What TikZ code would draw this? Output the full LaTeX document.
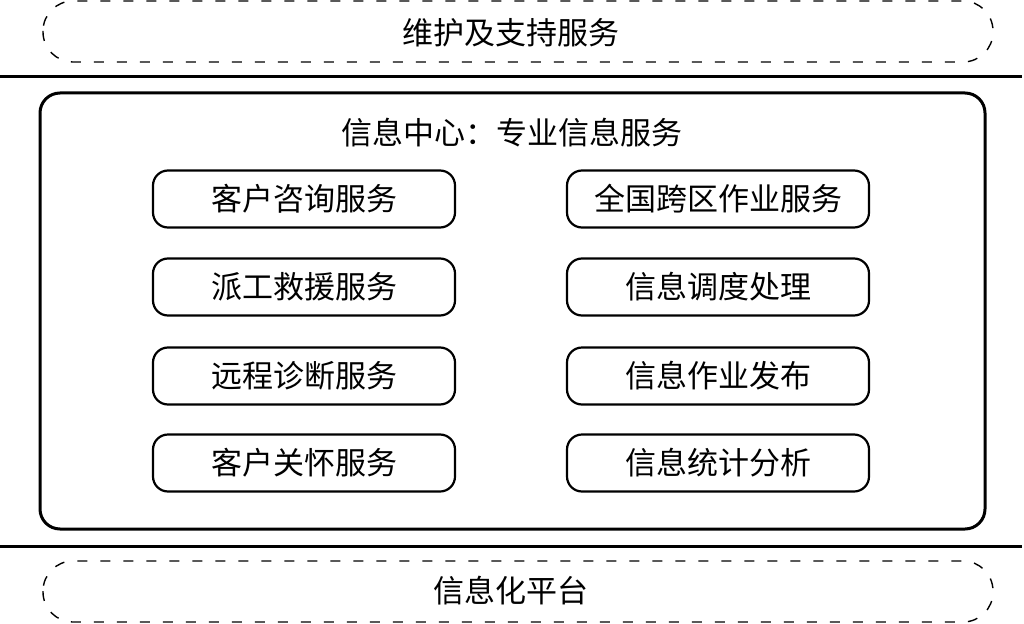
\documentclass[tikz,border=0pt]{standalone}
\usepackage{fontspec}
\newfontfamily\cjk{Noto Sans CJK SC}
\begin{document}
\begin{tikzpicture}[x=1pt,y=-1pt,
  lbl/.style={font=\cjk\fontsize{31}{33}\selectfont, inner sep=0pt},
  svc/.style={draw, line width=2.2pt, rounded corners=15pt, minimum width=302pt, minimum height=57pt, font=\cjk\fontsize{31}{33}\selectfont, inner sep=0pt},
  dbox/.style={draw, line width=1.4pt, dash pattern=on 10pt off 13pt, rounded corners=30pt},
  rule/.style={line width=3pt}]
\useasboundingbox (0,0) rectangle (1024,623);
% top dashed box
\draw[dbox] (43,1) rectangle (993,62);
\node[lbl] (top) at (511,33) {维护及支持服务};
% rules
\coordinate (r1a) at (0,77); \coordinate (r1b) at (1022,77);
\draw[rule] (r1a) -- (r1b);
\coordinate (r2a) at (0,546); \coordinate (r2b) at (1022,546);
\draw[rule] (r2a) -- (r2b);
% main box
\draw[line width=3pt, rounded corners=20pt] (40,93) rectangle (985,529);
\node[lbl] (title) at (512,133) {信息中心：专业信息服务};
% services
\node[svc] (a1) at (304,199) {客户咨询服务};
\node[svc] (a2) at (304,287) {派工救援服务};
\node[svc] (a3) at (304,376) {远程诊断服务};
\node[svc] (a4) at (304,463) {客户关怀服务};
\node[svc] (b1) at (718,199) {全国跨区作业服务};
\node[svc] (b2) at (718,287) {信息调度处理};
\node[svc] (b3) at (718,376) {信息作业发布};
\node[svc] (b4) at (718,463) {信息统计分析};
% bottom dashed box
\draw[dbox] (43,561) rectangle (993,622);
\node[lbl] (bot) at (511,591) {信息化平台};
\end{tikzpicture}
\end{document}
